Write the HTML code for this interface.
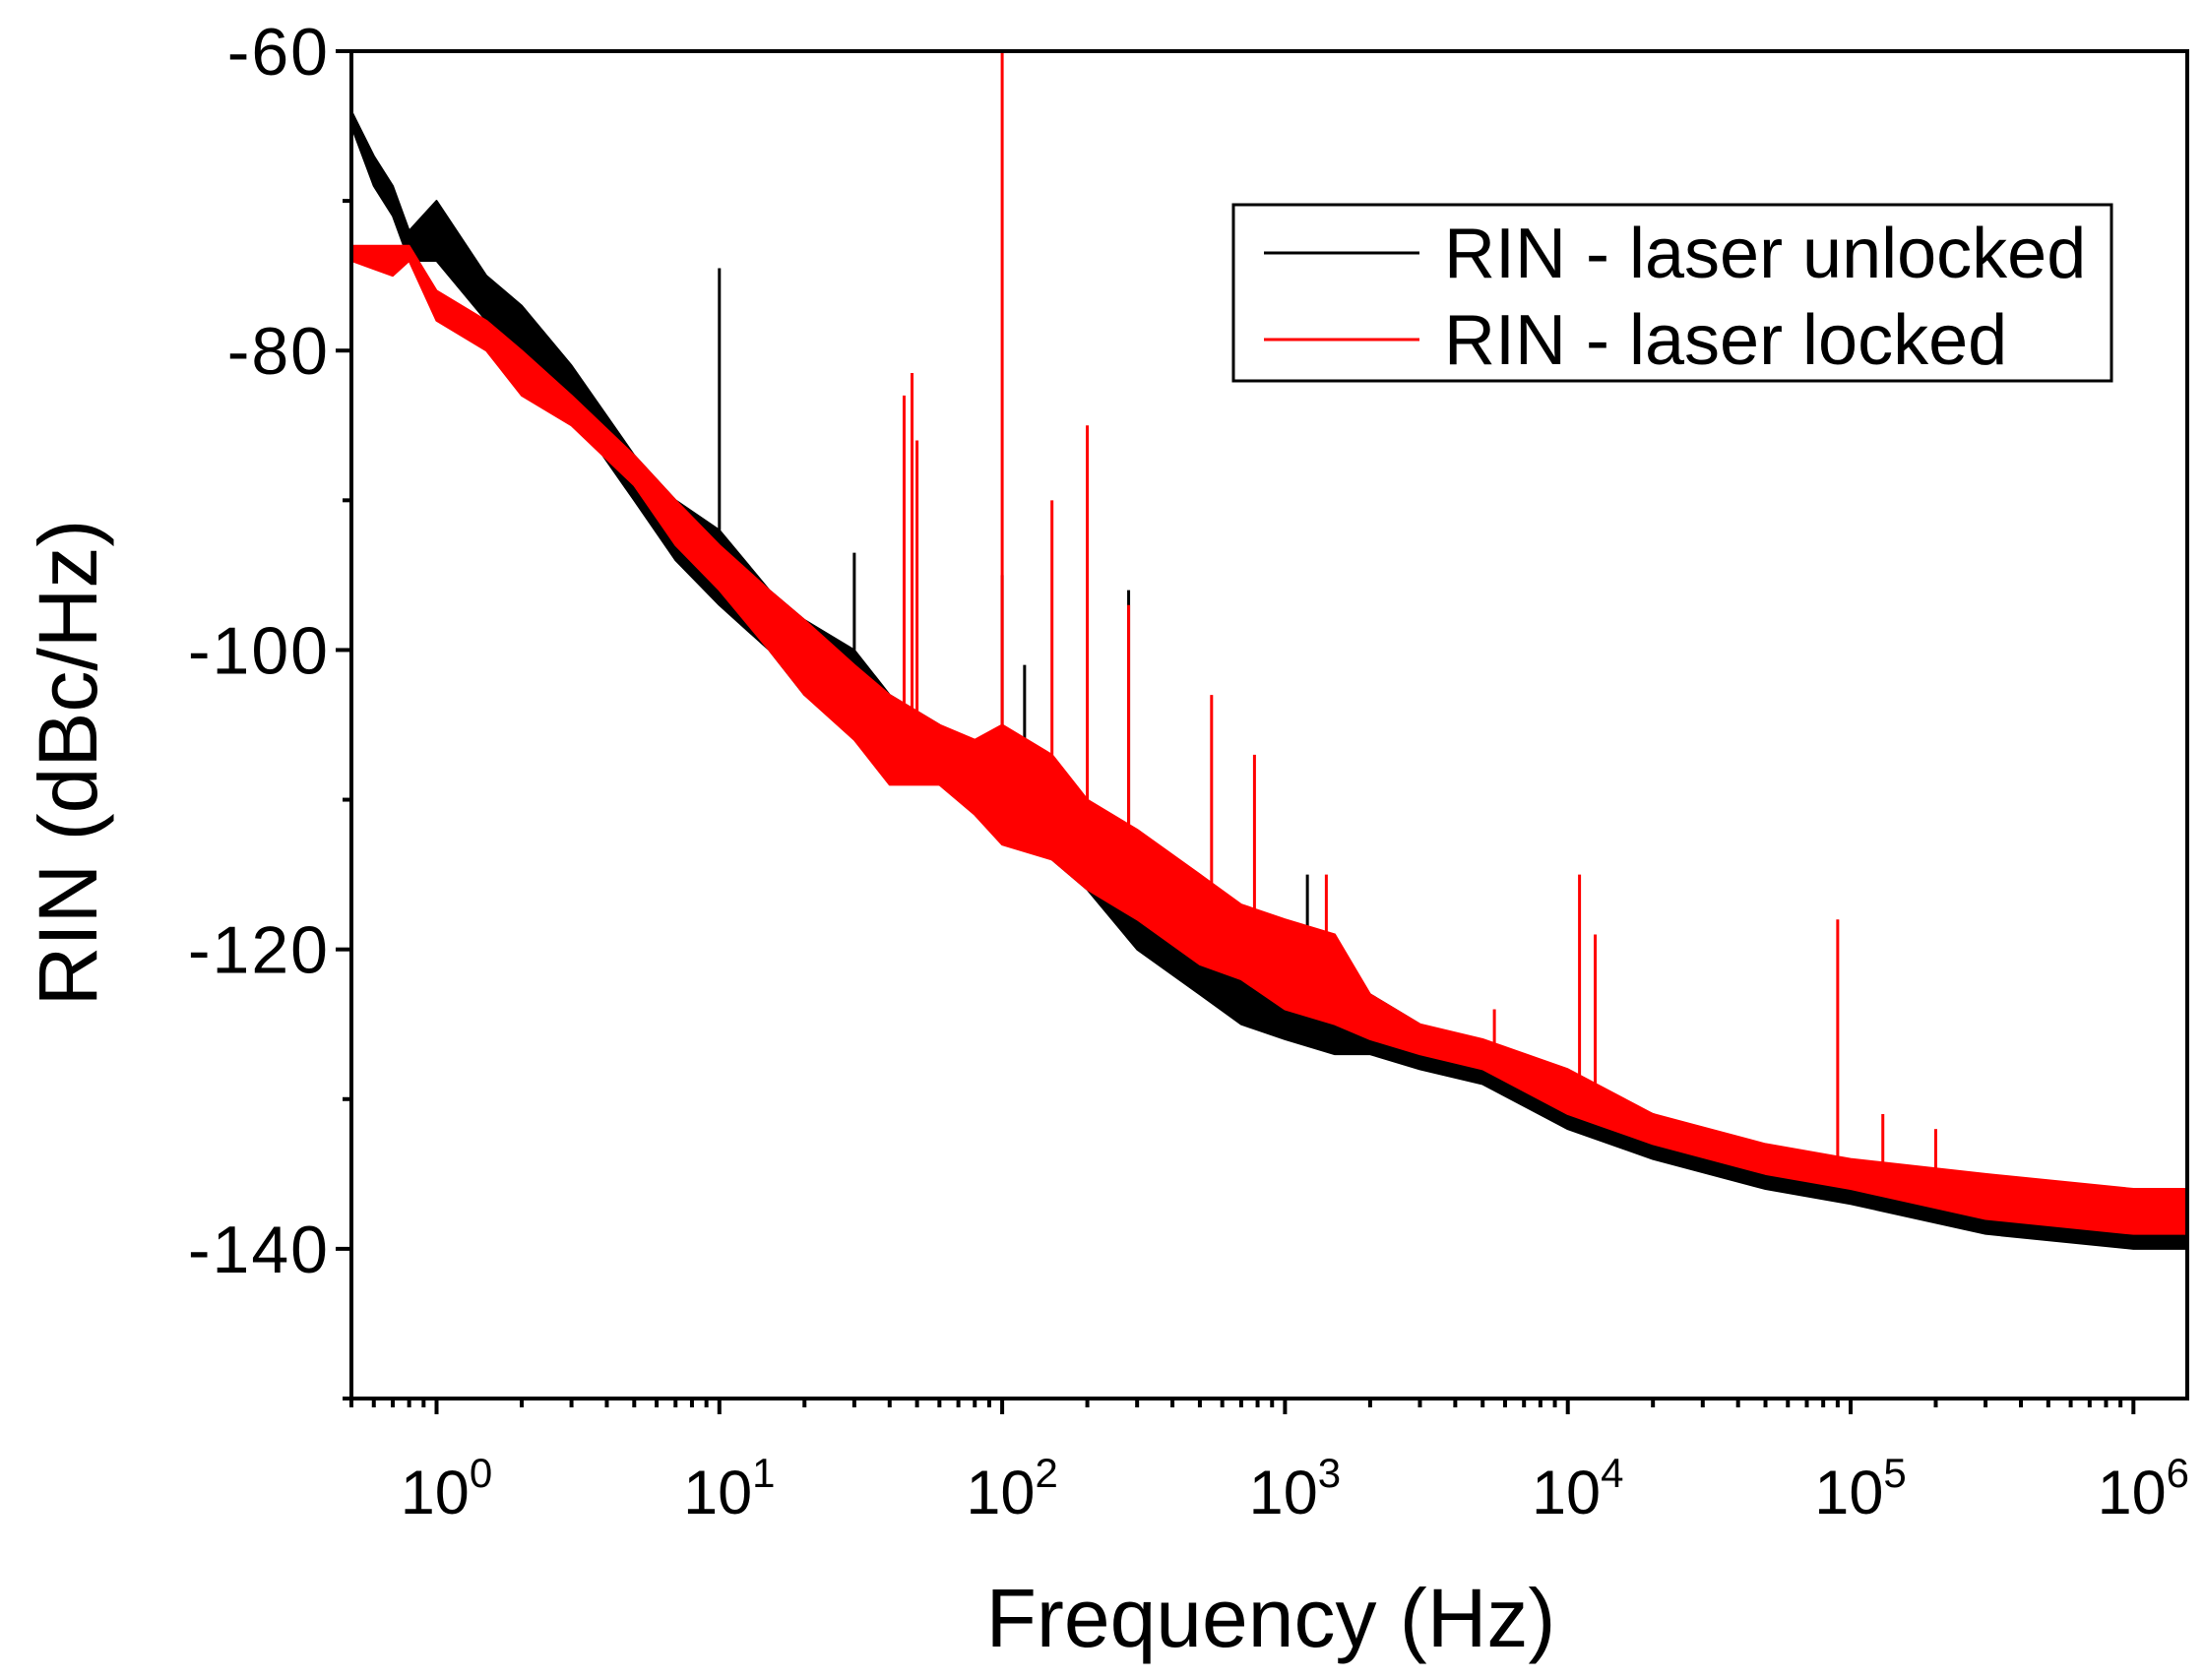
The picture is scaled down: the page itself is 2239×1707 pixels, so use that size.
<!DOCTYPE html>
<html><head><meta charset="utf-8"><style>
body{margin:0;background:#fff}
svg text{font-family:"Liberation Sans",sans-serif}
</style></head><body>
<svg id="chart" width="2239" height="1702" xmlns="http://www.w3.org/2000/svg">
<g id="plot"></g>
</svg>
<script>
const freqB=[0.5,0.6,0.7,0.8,1,1.5,2,3,5,7,10,15,20,30,40,60,80,100,150,200,300,500,700,1000,1500,2000,3000,5000,10000,20000,50000,100000,300000,1000000,1550000];
const upB=[-64,-67,-69,-72,-70,-75,-77,-81,-87,-90,-92,-96,-98,-100,-103,-105,-107,-106,-108,-111,-113,-116,-118,-120,-121,-123,-125,-127,-129,-131,-134,-135,-136,-137,-137];
const loB=[-65,-69,-71,-74,-74,-78,-80,-84,-90,-94,-97,-100,-103,-105,-107,-109,-110,-112,-114,-116,-120,-123,-125,-126,-127,-127,-128,-129,-132,-134,-136,-137,-139,-140,-140];
const freqR=[0.5,0.7,0.8,1,1.5,2,3,5,7,10,15,20,30,40,60,80,100,150,200,300,500,700,1000,1500,2000,3000,5000,10000,20000,50000,100000,300000,1000000,1550000];
const upR=[-73,-73,-73,-76,-78,-80,-83,-87,-90,-93,-96,-98,-101,-103,-105,-106,-105,-107,-110,-112,-115,-117,-118,-119,-123,-125,-126,-128,-131,-133,-134,-135,-136,-136];
const loR=[-74,-75,-74,-78,-80,-83,-85,-89,-93,-96,-100,-103,-106,-109,-109,-111,-113,-114,-116,-118,-121,-122,-124,-125,-126,-127,-128,-131,-133,-135,-136,-138,-139,-139];
const spikeFB=[10,30,100,120,280,1200];
const spikeVB=[-74.5,-93.5,-95,-101,-96,-115];
const spikeFR=[45,48,50,100,150,200,280,550,780,1400,5500,11000,12500,90000,130000,200000];
const spikeVR=[-83,-81.5,-86,-60,-90,-85,-97,-103,-107,-115,-124,-115,-119,-118,-131,-132];
const yTicks=[-60,-80,-100,-120,-140];
const xExps=[0,1,2,3,4,5,6];

const L=357,R=2222,T=52,B=1421;
const lmin=Math.log10(0.5),lmax=Math.log10(1.55e6);
const X=f=>L+(Math.log10(f)-lmin)*(R-L)/(lmax-lmin);
const Y=v=>T+(-60-v)*(B-T)/90;
const NS="http://www.w3.org/2000/svg";
const g=document.getElementById('plot');
function mk(tag,attrs){const e=document.createElementNS(NS,tag);for(const k in attrs)e.setAttribute(k,attrs[k]);g.appendChild(e);return e;}

function band(fr,up,lo,color,name){
  let pts=fr.map((f,i)=>X(f)+','+Y(up[i]));
  for(let i=fr.length-1;i>=0;i--)pts.push(X(fr[i])+','+Y(lo[i]));
  const p=mk('polygon',{points:pts.join(' '),fill:color,stroke:color,'stroke-width':2,'stroke-linejoin':'round'});
  
  
}
function spikes(fr,vals,base,bf,color,name){
  fr.forEach((f,i)=>{
    let j=0;while(j<bf.length-1&&bf[j+1]<f)j++;
    const t=(Math.log10(f)-Math.log10(bf[j]))/(Math.log10(bf[j+1])-Math.log10(bf[j]));
    const b=base[j]+(base[j+1]-base[j])*t;
    const l=mk('line',{x1:X(f),x2:X(f),y1:Y(b),y2:Y(vals[i]),stroke:color,'stroke-width':3});
    
    
  });
}
band(freqB,upB,loB,'#000','unlocked-trace');
spikes(spikeFB,spikeVB,upB,freqB,'#000','unlocked-spike');
band(freqR,upR,loR,'#f00','locked-trace');
spikes(spikeFR,spikeVR,upR,freqR,'#f00','locked-spike');

const fr=mk('rect',{x:L,y:T,width:R-L,height:B-T,fill:'none',stroke:'#000','stroke-width':4});



for(let v=-60;v>=-150;v-=10){
  const major=yTicks.includes(v);
  const t=mk('line',{x1:L-(major?16:9),x2:L,y1:Y(v),y2:Y(v),stroke:'#000','stroke-width':4});
  
  
}
yTicks.forEach(v=>{
  const t=mk('text',{x:L-22,y:Y(v)+24,'text-anchor':'end','font-size':68,'letter-spacing':2});
  t.textContent=v;
  
  
});
for(let e=-1;e<=6;e++){
  for(let m=1;m<10;m++){
    const f=m*Math.pow(10,e);
    if(f<0.5||f>1.55e6)continue;
    const t=mk('line',{x1:X(f),x2:X(f),y1:B,y2:B+(m===1?16:9),stroke:'#000','stroke-width':4});
    
    
  }
}
xExps.forEach(e=>{
  const t=mk('text',{x:X(Math.pow(10,e))+10,y:1538,'text-anchor':'middle','font-size':63});
  t.innerHTML='10<tspan dy="-27" font-size="42">'+e+'</tspan>';
  
  
});
const xt=mk('text',{x:1291,y:1673,'text-anchor':'middle','font-size':84});
xt.textContent='Frequency (Hz)';


const yt=mk('text',{x:0,y:0,'text-anchor':'middle','font-size':84,transform:'translate(98,775) rotate(-90)'});
yt.textContent='RIN (dBc/Hz)';


const lg=mk('rect',{x:1253,y:208,width:892,height:179,fill:'#fff',stroke:'#000','stroke-width':3});


[['#000','RIN - laser unlocked',257],['#f00','RIN - laser locked',345]].forEach(([c,s,y])=>{
  const l=mk('line',{x1:1284,x2:1442,y1:y,y2:y,stroke:c,'stroke-width':3});
  
  
  const t=mk('text',{x:1467,y:y+25,'font-size':72});
  t.textContent=s;
  
  
});
</script>
</body></html>
